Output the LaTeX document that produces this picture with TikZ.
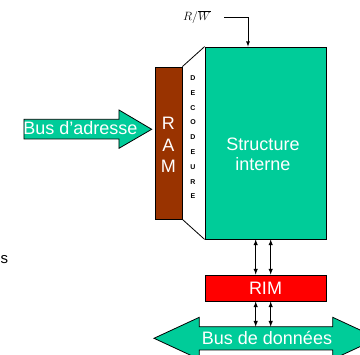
\documentclass[tikz,border=0pt]{standalone}
\usepackage{fontspec}
\setmainfont{Liberation Sans}
\usepackage{tikz}
\usetikzlibrary{arrows}
\definecolor{vertmem}{RGB}{0,204,153}
\definecolor{brunram}{RGB}{153,51,0}
\tikzset{boite/.style={draw,inner sep=0pt,line width=0.8pt},
  gros/.style={font=\fontsize{18}{20}\selectfont},
  lettre/.style={font=\bfseries\fontsize{7}{8}\selectfont}}

\begin{document}
\begin{tikzpicture}[x=1pt,y=-1pt,>=latex]
\clip (0,0) rectangle (360,355);
% memoire
\node [boite,fill=vertmem,minimum width=121pt,minimum height=192pt] (struct) at (265.5,143) {};
\node [gros,text=white,align=center] (txt) at (263,154) {Structure\\interne};
\node [boite,fill=brunram,minimum width=27pt,minimum height=152pt] (ram) at (168.5,143) {};
\node [text=white,align=center,font=\fontsize{18}{21.8}\selectfont] (ramtxt) at (168.3,145) {R\\A\\M};
% decodeur
\draw [line width=0.8pt] (ram.north east) -- (struct.north west);
\draw [line width=0.8pt] (ram.south east) -- (struct.south west);
\foreach \l [count=\i] in {D,E,C,O,D,E,U,R,E}
  \node [lettre] (dec\i) at (193,{78+14.8*(\i-1)}) {\l};
% R/W
\node [font=\large] (rw) at (197,17) {$R/\overline{W}$};
\coordinate (rwx) at (248,0);
\draw [->,line width=0.8pt,shorten <=10pt] (rw.east) -| (rwx |- struct.north);
% RIM
\node [boite,fill=red,minimum width=121pt,minimum height=26pt,gros,text=white] (rim) at (265.5,288) {RIM};
% bus d'adresse
\draw [line width=0.8pt,fill=vertmem] (24,119.3) -- (119,119.3) -- (119,110) -- (151.7,129.3) -- (119,148.3) -- (119,139) -- (24,139) -- cycle;
\node [gros,text=white] (adr) at (80.5,128.5) {Bus d’adresse};
% bus de donnees
\draw [line width=0.8pt,fill=vertmem] (154,338.3) -- (199.3,317.3) -- (199.3,326.7) -- (332.7,326.7) -- (332.7,317.3) -- (378,338.3) -- (332.7,359.3) -- (332.7,350) -- (199.3,350) -- (199.3,359.3) -- cycle;
\node [gros,text=white] (don) at (267,338) {Bus de données};
\coordinate (bushaut) at (0,326.7);
% liaisons
\coordinate (c1) at (255.7,0);
\coordinate (c2) at (270.7,0);
\draw [<->,line width=1pt] (c1 |- struct.south) -- (c1 |- rim.north);
\draw [<->,line width=1pt] (c2 |- struct.south) -- (c2 |- rim.north);
\draw [<->,line width=1pt] (c1 |- rim.south) -- (c1 |- bushaut);
\draw [<->,line width=1pt] (c2 |- rim.south) -- (c2 |- bushaut);
\node [font=\fontsize{15}{18}\selectfont,anchor=base west,inner sep=0pt] (frag) at (0.5,263.5) {s};
\end{tikzpicture}
\end{document}
